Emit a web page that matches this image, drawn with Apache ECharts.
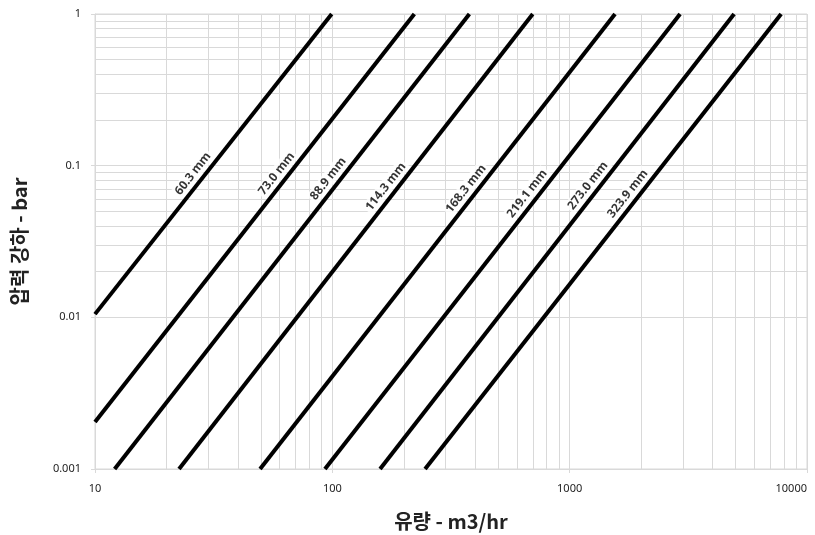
<!DOCTYPE html>
<html>
<head>
<meta charset="utf-8">
<script src="https://cdn.jsdelivr.net/npm/echarts@6/dist/echarts.min.js"></script>
<style>html,body{margin:0;padding:0;background:#fff}#c{width:815px;height:535px}</style>
</head>
<body>
<div id="c"></div>
<script>
// ---- data ----
const pipeSizes = ['60.3 mm', '73.0 mm', '88.9 mm', '114.3 mm', '168.3 mm', '219.1 mm', '273.0 mm', '323.9 mm'];
const flowStart = [10, 10, 12.1, 22.6, 49.6, 93.1, 158.9, 245.9];
const dropStart = [0.0105, 0.00204, 0.001, 0.001, 0.001, 0.001, 0.001, 0.001];
const flowEnd   = [99.4, 221.6, 378, 699, 1553, 2919, 4930, 7780];
const dropEnd   = [1, 1, 1, 1, 1, 1, 1, 1];
const xTicks = [10, 100, 1000, 10000];
const yTicks = [0.001, 0.01, 0.1, 1];

// ---- layout: pressure drop where each label touches its line ----
const labelAnchorDrop = [0.0806, 0.0806, 0.0747, 0.0662, 0.0642, 0.0595, 0.0672, 0.0595];

const gridColor = '#d9d9d9';
const labelFont = "'Noto Sans', sans-serif";
const titleFont = "'Noto Sans CJK KR', 'Noto Sans', sans-serif";

function minorValues(ticks) {
  const out = [];
  for (let i = 0; i < ticks.length - 1; i++) {
    for (let m = 2; m <= 9; m++) out.push(+(ticks[i] * m).toPrecision(3));
  }
  return out;
}

function flowOnLine(i, d) {
  const lx0 = Math.log10(flowStart[i]), lx1 = Math.log10(flowEnd[i]);
  const ly0 = Math.log10(dropStart[i]), ly1 = Math.log10(dropEnd[i]);
  return Math.pow(10, lx0 + (Math.log10(d) - ly0) * (lx1 - lx0) / (ly1 - ly0));
}

const minorGrid = {
  type: 'line', data: [], silent: true, z: 1,
  markLine: {
    z: 1,
    silent: true, symbol: ['none', 'none'], animation: false,
    label: { show: false },
    lineStyle: { color: gridColor, width: 1, type: 'solid' },
    emphasis: { disabled: true },
    data: minorValues(xTicks).map(v => ({ xAxis: v }))
      .concat(minorValues(yTicks).map(v => ({ yAxis: v })))
  }
};

const lineSeries = pipeSizes.map((name, i) => ({
  name: name,
  type: 'line',
  z: 3,
  showSymbol: false,
  symbol: 'none',
  animation: false,
  lineStyle: { color: '#000', width: 4 },
  data: [[flowStart[i], dropStart[i]], [flowEnd[i], dropEnd[i]]]
}));

const labelSeries = {
  type: 'scatter', z: 2, silent: true, animation: false,
  symbolSize: 0,
  data: pipeSizes.map((name, i) => ({
    value: [flowOnLine(i, labelAnchorDrop[i]), labelAnchorDrop[i]],
    name: name
  })),
  label: {
    show: true, formatter: p => p.name, rotate: 52,
    position: 'inside',
    offset: [0, -10],
    color: '#000', fontFamily: labelFont, fontWeight: 'bold', fontSize: 12,
    backgroundColor: '#fff', padding: [1, 2]
  }
};

const chart = echarts.init(document.getElementById('c'), null, { renderer: 'canvas' });
chart.setOption({
  animation: false,
  backgroundColor: '#fff',
  grid: { left: 95, right: 8, top: 14, bottom: 66, show: true, borderColor: gridColor, borderWidth: 1,
          outerBoundsMode: 'none', containLabel: false },
  xAxis: {
    type: 'log', logBase: 10, min: xTicks[0], max: xTicks[xTicks.length - 1],
    name: '유량 - m3/hr', nameLocation: 'middle', nameGap: 42,
    nameTextStyle: { fontFamily: titleFont, fontWeight: 'bold', fontSize: 20, color: '#222' },
    axisLine: { show: true, lineStyle: { color: gridColor, width: 1 } },
    axisTick: { show: true, length: 4, lineStyle: { color: gridColor } },
    axisLabel: { color: '#222', fontFamily: labelFont, fontSize: 11, margin: 14,
      alignMaxLabel: 'right',
      formatter: v => String(Math.round(v)) },
    splitLine: { show: true, lineStyle: { color: gridColor, width: 1 } }
  },
  yAxis: {
    type: 'log', logBase: 10, min: yTicks[0], max: yTicks[yTicks.length - 1],
    name: '압력 강하 - bar', nameLocation: 'middle', nameGap: 66, nameRotate: 90,
    nameTextStyle: { fontFamily: titleFont, fontWeight: 'bold', fontSize: 20, color: '#222' },
    axisLine: { show: true, lineStyle: { color: gridColor, width: 1 } },
    axisTick: { show: true, length: 4, lineStyle: { color: gridColor } },
    axisLabel: { color: '#222', fontFamily: labelFont, fontSize: 11, margin: 14,
      formatter: v => String(+v.toPrecision(1)) },
    splitLine: { show: true, lineStyle: { color: gridColor, width: 1 } }
  },
  series: [minorGrid, labelSeries].concat(lineSeries)
});
</script>
</body>
</html>
